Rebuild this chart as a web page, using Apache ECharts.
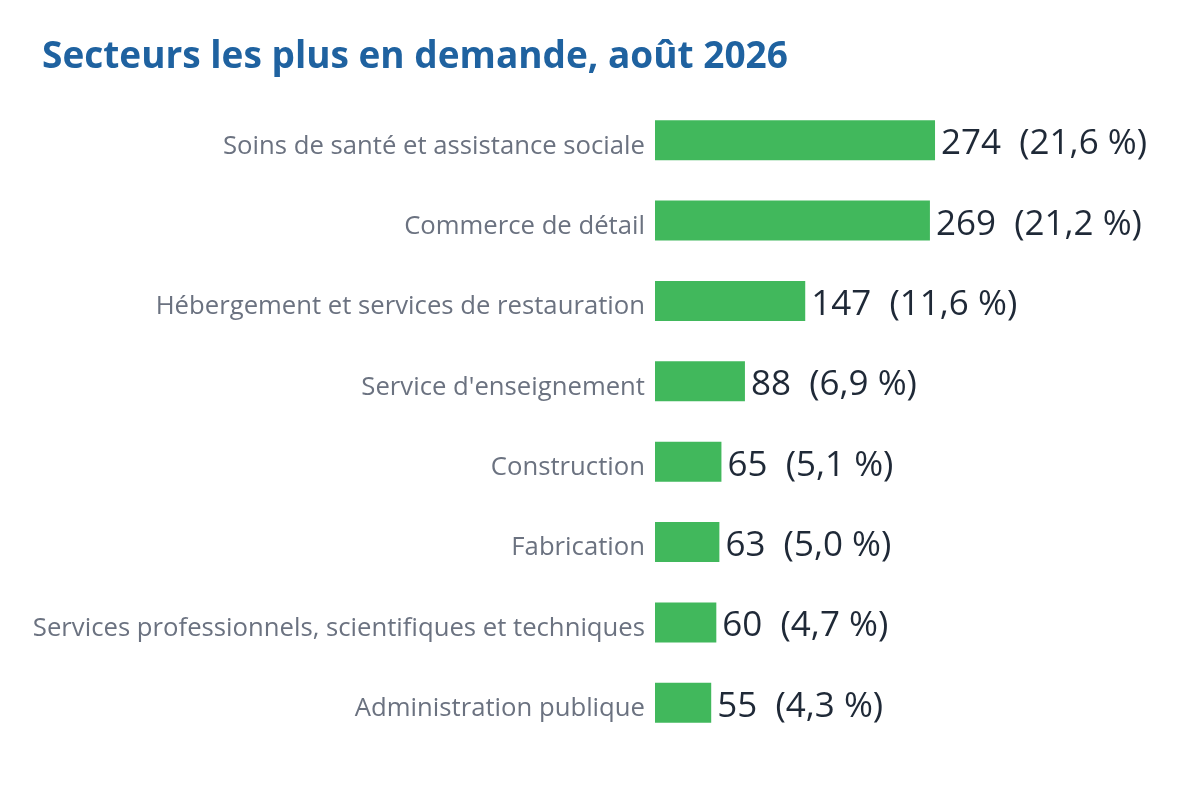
<!DOCTYPE html>
<html>
<head>
<meta charset="utf-8">
<script src="https://cdn.jsdelivr.net/npm/echarts@6/dist/echarts.min.js"></script>
<style>
  html, body { margin: 0; padding: 0; background: #fff; }
  #main { width: 1180px; height: 800px; }
</style>
</head>
<body>
<div id="main"></div>
<script>
// secteurs, du plus grand au plus petit
var sectors = [
  'Soins de santé et assistance sociale',
  'Commerce de détail',
  'Hébergement et services de restauration',
  "Service d'enseignement",
  'Construction',
  'Fabrication',
  'Services professionnels, scientifiques et techniques',
  'Administration publique'
];
var counts = [274, 269, 147, 88, 65, 63, 60, 55];
var shares = ['21,6', '21,2', '11,6', '6,9', '5,1', '5,0', '4,7', '4,3'];

var chart = echarts.init(document.getElementById('main'));
chart.setOption({
  animation: false,
  title: {
    text: 'Secteurs les plus en demande, août 2026',
    left: 37,
    top: 34,
    textStyle: {
      fontFamily: 'Open Sans',
      fontWeight: 'bold',
      fontSize: 37,
      color: '#1f62a0'
    }
  },
  grid: {
    left: 655,
    right: 14,
    top: 100,
    bottom: 57,
    containLabel: false
  },
  xAxis: {
    type: 'value',
    min: 0,
    max: 500,
    show: false
  },
  yAxis: {
    type: 'category',
    inverse: true,
    data: sectors,
    axisLine: { show: false },
    axisTick: { show: false },
    axisLabel: {
      margin: 10,
      formatter: function (v) { return '{c|' + v + '}'; },
      rich: {
        c: {
          padding: [12, 0, 0, 0],
          fontFamily: 'Open Sans',
          fontSize: 25.7,
          color: '#6b7280'
        }
      }
    }
  },
  series: [{
    type: 'bar',
    data: counts,
    barWidth: 40,
    itemStyle: { color: '#41b85c' },
    label: {
      show: true,
      position: 'right',
      distance: 6,
      formatter: function (p) {
        return '{v|' + p.value + '  (' + shares[p.dataIndex] + ' %)}';
      },
      rich: {
        v: {
          padding: [8, 0, 0, 0],
          fontFamily: 'Open Sans',
          fontSize: 35,
          color: '#1f2937'
        }
      }
    }
  }]
});
</script>
</body>
</html>
